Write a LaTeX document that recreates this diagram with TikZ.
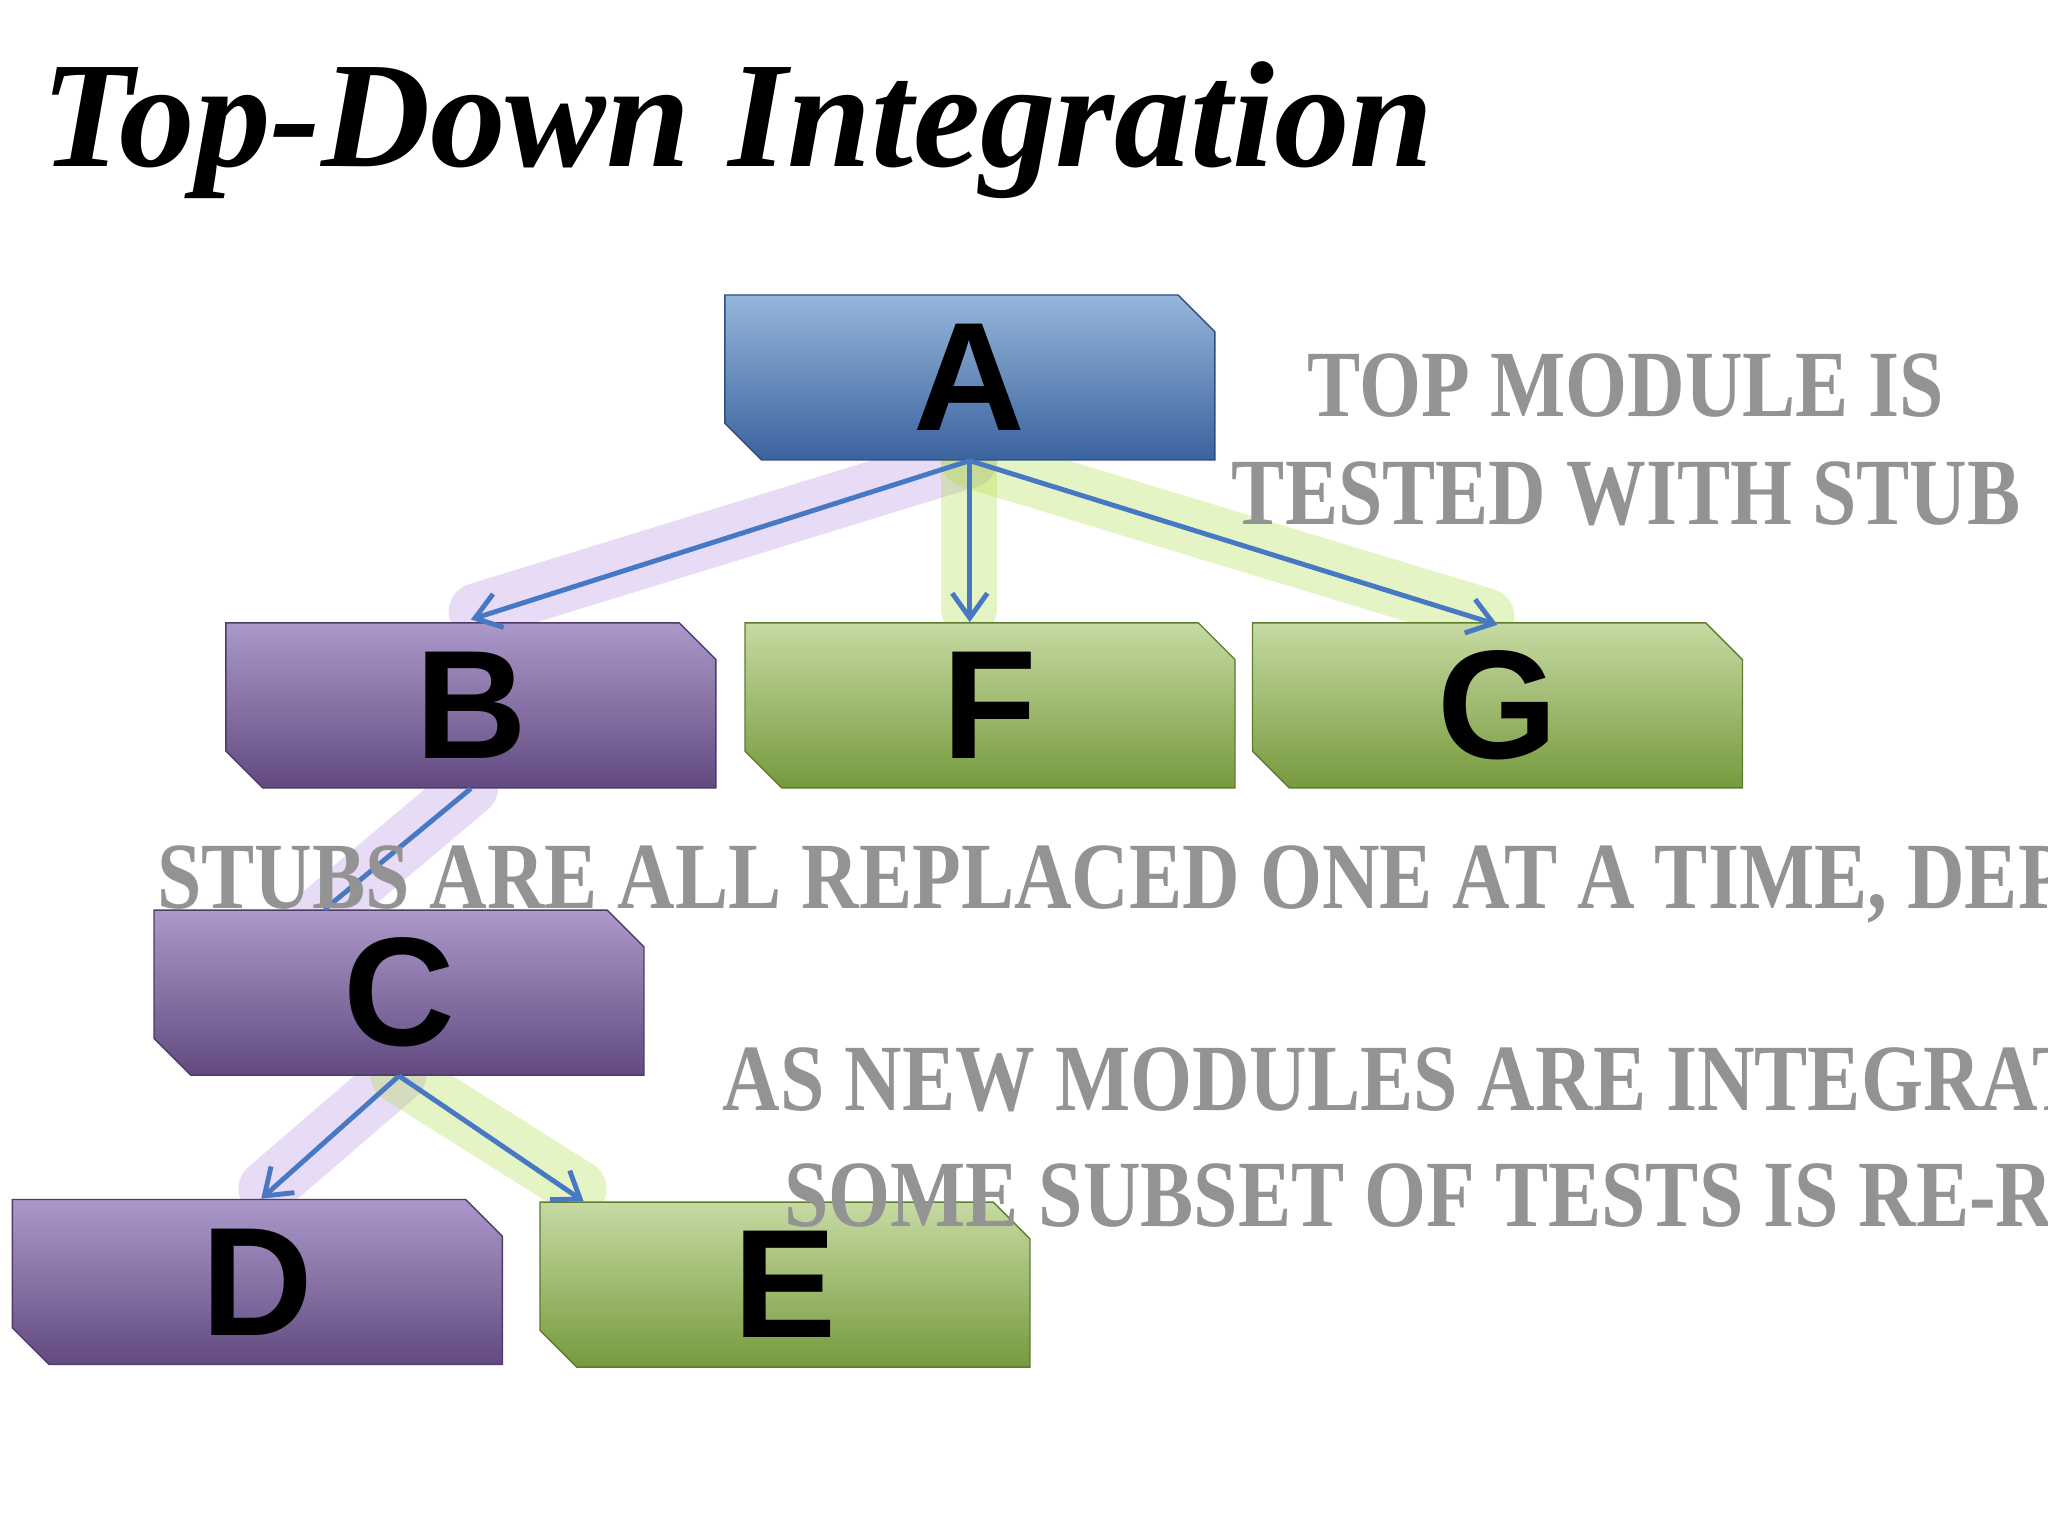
\documentclass[tikz,border=0pt]{standalone}
\usepackage{fontspec}
\setmainfont{Liberation Serif}
\newfontfamily\boxfont{Liberation Sans}
\usetikzlibrary{shapes.misc,calc,arrows.meta}
\definecolor{bluetop}{RGB}{150,182,218}
\definecolor{bluebot}{RGB}{58,98,158}
\definecolor{purtop}{RGB}{172,152,202}
\definecolor{purbot}{RGB}{98,74,128}
\definecolor{grntop}{RGB}{198,218,162}
\definecolor{grnbot}{RGB}{118,154,62}
\definecolor{arrowblue}{RGB}{70,120,195}
\definecolor{glowp}{RGB}{150,90,210}
\definecolor{glowg}{RGB}{170,220,60}
\tikzset{
 modbox/.style={chamfered rectangle, chamfered rectangle corners={north east,south west},
   chamfered rectangle xsep=0.26cm, minimum width=4.9cm, minimum height=1.65cm, inner sep=0pt,
   font=\boxfont\bfseries\fontsize{44}{44}\selectfont, text=black},
 bluebox/.style={modbox, top color=bluetop, bottom color=bluebot, draw=bluebot!80!black},
 purbox/.style={modbox, top color=purtop, bottom color=purbot, draw=purbot!80!black},
 grnbox/.style={modbox, top color=grntop, bottom color=grnbot, draw=grnbot!80!black},
 conn/.style={draw=arrowblue, line width=1.4pt, -{Straight Barb[length=7pt,width=10pt]}},
 plainconn/.style={draw=arrowblue, line width=1.4pt},
 glowpur/.style={draw=glowp, line width=16pt, opacity=0.22, line cap=round},
 glowgrn/.style={draw=glowg, line width=16pt, opacity=0.3, line cap=round},
 note/.style={font=\bfseries\fontsize{27}{27}\selectfont, text=gray!85, inner sep=0pt, xscale=0.84},
}
\begin{document}
\begin{tikzpicture}[x=0.01306cm,y=-0.01306cm]
\useasboundingbox (0,0) rectangle (1568,1176);
\clip (0,0) rectangle (1568,1176);
\node[font=\bfseries\itshape\fontsize{43}{43}\selectfont, anchor=west, text=black] (title) at (22,100) {Top-Down Integration};
% glows
\coordinate (ga) at (742,352);
\draw[glowpur] (ga) -- (365,468);
\draw[glowgrn] (ga) -- (742,466);
\draw[glowgrn] (ga) -- (1138,472);
\draw[glowpur] (360,603) -- (245,700);
\draw[glowpur] (305,823) -- (204,910);
\draw[glowgrn] (305,823) -- (443,910);
\node[bluebox] (A) at (742.5,289) {A};
\node[purbox] (B) at (360.5,540) {B};
\node[grnbox] (F) at (758,540) {F};
\node[grnbox] (G) at (1146.5,540) {G};
\node[purbox] (C) at (305.5,760) {C};
\node[purbox] (D) at (197,981.5) {D};
\node[grnbox] (E) at (601,983.5) {E};
\draw[conn] (A.south) -- ($(B.north)+(0,-2)$);
\draw[conn] (A.south) -- (A.south |- F.north);
\draw[conn] (A.south) -- ($(G.north)+(0,2)$);
\draw[plainconn] (B.south) -- ($(C.north west)+(131,0)$);
\draw[conn] (C.south) -- ($(D.north)+(3,0)$);
\draw[conn] (C.south) -- ($(E.north west)+(34,0)$);
\node[note] (t1) at (1245,295) {TOP MODULE IS};
\node[note] (t2) at (1245,378) {TESTED WITH STUB};
\node[note, anchor=west] (t3) at (120,677) {STUBS ARE ALL REPLACED ONE AT A TIME, DEPTH FIRST};
\node[note, anchor=west] (t4) at (553,832) {AS NEW MODULES ARE INTEGRATED,};
\node[note, anchor=west] (t5) at (600,915) {SOME SUBSET OF TESTS IS RE-RUN};
\end{tikzpicture}
\end{document}
